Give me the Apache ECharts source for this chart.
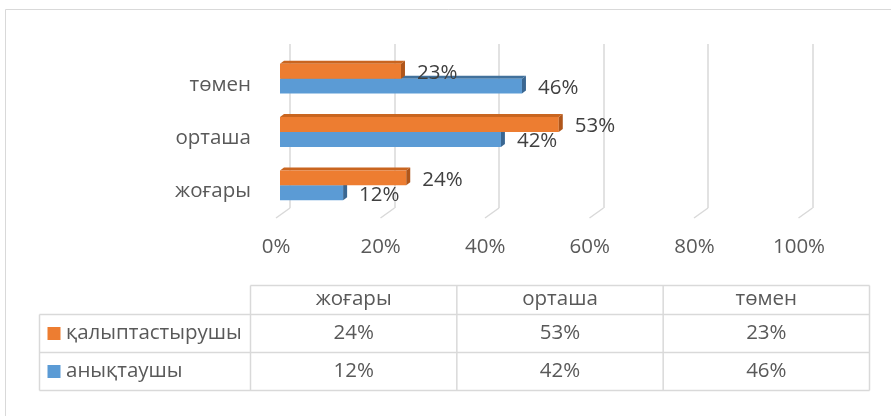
<!DOCTYPE html>
<html>
<head>
<meta charset="utf-8">
<script src="https://cdn.jsdelivr.net/npm/echarts@6/dist/echarts.min.js"></script>
<style>
  html, body { margin: 0; padding: 0; background: #ffffff; }
  #chart { width: 891px; height: 416px; }
</style>
</head>
<body>
<div id="chart"></div>
<script>
// Categories (bottom to top on the chart, left to right in the table)
const categories = ['жоғары', 'орташа', 'төмен'];
// Series names and values, in percent
const seriesNames = ['қалыптастырушы', 'анықтаушы'];
const formingValues = [24, 53, 23];
const definingValues = [12, 42, 46];
// Value axis ticks
const axisTicks = [0, 20, 40, 60, 80, 100];

const FONT = '"Open Sans", "Noto Sans", sans-serif';
const FS = 20.5;
const GRID_LINE = '#d9d9d9';

const palette = {
  forming:  { front: '#ED7D31', top: '#C9651F', side: '#B0561A' },
  defining: { front: '#5B9BD5', top: '#41719C', side: '#3A6792' }
};

// Depth of the bar extrusion
const DX = 4, DY = 3;

function makeBarRenderer(slot, colors) {
  // slot 0: lower bar of the pair, slot 1: upper bar
  return function (params, api) {
    const cat = api.value(0);
    const val = api.value(1);
    const base = api.coord([0, cat]);
    const end = api.coord([val, cat]);
    const band = api.size([0, 1])[1];
    const h = band * 0.28;
    const x0 = base[0], x1 = end[0];
    const y0 = slot === 0 ? base[1] : base[1] - h;
    return {
      type: 'group',
      children: [
        {
          type: 'polygon',
          shape: { points: [[x0, y0], [x1, y0], [x1 + DX, y0 - DY], [x0 + DX, y0 - DY]] },
          style: { fill: colors.top }
        },
        {
          type: 'rect',
          shape: { x: x0, y: y0, width: x1 - x0, height: h },
          style: { fill: colors.front }
        },
        {
          type: 'polygon',
          shape: { points: [[x1, y0], [x1 + DX, y0 - DY], [x1 + DX, y0 + h - DY], [x1, y0 + h]] },
          style: { fill: colors.side }
        },
        {
          type: 'text',
          style: {
            x: x1 + 16, y: y0 + h / 2 + 2,
            text: val + '%',
            fill: '#404040',
            font: FS + 'px ' + FONT,
            verticalAlign: 'middle',
            align: 'left'
          }
        }
      ]
    };
  };
}

// Floor lines running from the back wall to the front edge
function floorRenderer(params, api) {
  const p = api.coord([api.value(0), 0]);
  return {
    type: 'line',
    shape: { x1: p[0], y1: p[1], x2: p[0] - 14, y2: p[1] + 10 },
    style: { stroke: GRID_LINE, lineWidth: 1.5 }
  };
}

// Data table below the plot
const table = {
  legendLeft: 39.5,
  left: 250.5,
  right: 869.5,
  headerTop: 285.5,
  rowLines: [314.5, 352.5, 390.5]
};

function buildTable() {
  const els = [];
  const colW = (table.right - table.left) / categories.length;
  const lineStyle = { stroke: GRID_LINE, lineWidth: 1.5 };
  els.push({ type: 'line', shape: { x1: table.left, y1: table.headerTop, x2: table.right, y2: table.headerTop }, style: lineStyle });
  table.rowLines.forEach(function (y) {
    els.push({ type: 'line', shape: { x1: table.legendLeft, y1: y, x2: table.right, y2: y }, style: lineStyle });
  });
  const bottom = table.rowLines[table.rowLines.length - 1];
  els.push({ type: 'line', shape: { x1: table.legendLeft, y1: table.rowLines[0], x2: table.legendLeft, y2: bottom }, style: lineStyle });
  for (let i = 0; i <= categories.length; i++) {
    const x = table.left + i * colW;
    els.push({ type: 'line', shape: { x1: x, y1: table.headerTop, x2: x, y2: bottom }, style: lineStyle });
  }
  const textStyle = function (x, y, t, align) {
    return { type: 'text', style: { x: x, y: y, text: t, fill: '#595959', font: FS + 'px ' + FONT, align: align, verticalAlign: 'middle' } };
  };
  const headerY = (table.headerTop + table.rowLines[0]) / 2 - 1;
  categories.forEach(function (c, i) {
    els.push(textStyle(table.left + (i + 0.5) * colW, headerY, c, 'center'));
  });
  const rows = [
    { name: seriesNames[0], values: formingValues, color: palette.forming.front },
    { name: seriesNames[1], values: definingValues, color: palette.defining.front }
  ];
  rows.forEach(function (r, ri) {
    const yc = (table.rowLines[ri] + table.rowLines[ri + 1]) / 2;
    els.push({ type: 'rect', shape: { x: 47.5, y: yc - 6.5, width: 13, height: 13 }, style: { fill: r.color } });
    els.push(textStyle(66, yc, r.name, 'left'));
    r.values.forEach(function (v, i) {
      els.push(textStyle(table.left + (i + 0.5) * colW, yc, v + '%', 'center'));
    });
  });
  return els;
}

const chart = echarts.init(document.getElementById('chart'), null, { renderer: 'canvas' });

chart.setOption({
  animation: false,
  backgroundColor: '#ffffff',
  textStyle: { fontFamily: FONT },
  grid: [
    { left: 280, top: 52, width: 526, height: 160 },     // bars (front plane)
    { left: 290, top: 44, width: 522.5, height: 164 },   // back wall
    { left: 276, top: 200, width: 523, height: 47.5 }    // front edge tick labels
  ],
  xAxis: [
    { gridIndex: 0, type: 'value', min: axisTicks[0], max: axisTicks[axisTicks.length - 1], interval: 20,
      axisLine: { show: false }, axisTick: { show: false }, axisLabel: { show: false }, splitLine: { show: false } },
    { gridIndex: 1, type: 'value', min: axisTicks[0], max: axisTicks[axisTicks.length - 1], interval: 20,
      axisLine: { show: false }, axisTick: { show: false }, axisLabel: { show: false },
      splitLine: { show: true, lineStyle: { color: GRID_LINE, width: 1.5 } } },
    { gridIndex: 2, type: 'value', min: axisTicks[0], max: axisTicks[axisTicks.length - 1], interval: 20,
      axisLine: { show: false }, axisTick: { show: false }, splitLine: { show: false },
      axisLabel: { show: true, margin: 0, verticalAlign: 'middle', color: '#595959', fontSize: FS, fontFamily: FONT,
        formatter: function (v) { return v + '%'; } } }
  ],
  yAxis: [
    { gridIndex: 0, type: 'category', data: categories,
      axisLine: { show: false }, axisTick: { show: false }, splitLine: { show: false },
      axisLabel: { margin: 29, color: '#595959', fontSize: FS, fontFamily: FONT, verticalAlign: 'top', lineHeight: 12 } },
    { gridIndex: 1, type: 'value', min: 0, max: 1, show: false },
    { gridIndex: 2, type: 'value', min: 0, max: 1, show: false }
  ],
  series: [
    { type: 'custom', name: 'floor', xAxisIndex: 1, yAxisIndex: 1, renderItem: floorRenderer,
      data: axisTicks.map(function (t) { return [t]; }), silent: true },
    { type: 'custom', name: seriesNames[1], xAxisIndex: 0, yAxisIndex: 0,
      renderItem: makeBarRenderer(0, palette.defining),
      encode: { x: 1, y: 0 },
      data: definingValues.map(function (v, i) { return [i, v]; }) },
    { type: 'custom', name: seriesNames[0], xAxisIndex: 0, yAxisIndex: 0,
      renderItem: makeBarRenderer(1, palette.forming),
      encode: { x: 1, y: 0 },
      data: formingValues.map(function (v, i) { return [i, v]; }) }
  ],
  graphic: [
    { type: 'rect', silent: true, shape: { x: 5.5, y: 9.5, width: 900, height: 420 },
      style: { fill: null, stroke: GRID_LINE, lineWidth: 1 } },
    { type: 'group', silent: true, children: buildTable() }
  ]
});
</script>
</body>
</html>
